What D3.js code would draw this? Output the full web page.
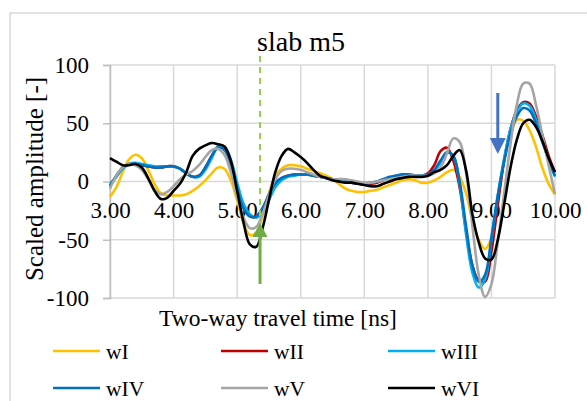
<!DOCTYPE html>
<html><head><meta charset="utf-8">
<script src="https://cdn.jsdelivr.net/npm/d3@7"></script>
<style>
html,body{margin:0;padding:0;background:#fff;}
svg{display:block;}
svg text{font-family:"Liberation Serif","Times New Roman",serif;fill:#000;}
</style></head>
<body>
<svg id="chart" width="587" height="401"></svg>
<script>
const time = [3.0,3.1,3.2,3.3,3.4,3.5,3.6,3.7,3.8,3.9,4.0,4.1,4.2,4.3,4.4,4.5,4.6,4.7,4.8,4.9,5.0,5.1,5.2,5.3,5.4,5.5,5.6,5.7,5.8,5.9,6.0,6.1,6.2,6.3,6.4,6.5,6.6,6.7,6.8,6.9,7.0,7.1,7.2,7.3,7.4,7.5,7.6,7.7,7.8,7.9,8.0,8.1,8.2,8.3,8.4,8.5,8.6,8.7,8.8,8.9,9.0,9.1,9.2,9.3,9.4,9.5,9.6,9.7,9.8,9.9,10.0];

const wI = [-13,-5,8,19,23,20,10,-2,-10,-12, -12,-12,-11,-8,-4,1,7,12,11,1, -16,-36,-46,-44,-30,-10,5,11,14,14, 13,11,9,7,5,2,-2,-6,-8,-9, -9,-8,-7,-5,-3,-1,1,2,1,-1, -1,1,4,8,10,4,-10,-33,-50,-58, -48,-15,18,40,53,52,44,30,12,-2,-11];
const wII = [-4,5,12,15,15,14,13,12,12,13, 13,11,7,4,5,12,22,30,29,16, -4,-22,-30,-30,-23,-12,-2,3,5,6, 6,6,5,4,3,2,1,0,-1,-2, -2,-2,-1,1,3,5,6,6,5,5, 7,14,26,29,18,-5,-42,-72,-85,-86, -60,-20,18,45,61,68,67,56,40,22,8];
const wIII = [-2,4,11,15,16,15,14,13,13,13, 13,11,7,4,4,10,20,30,30,19, -1,-19,-28,-31,-27,-16,-5,1,4,5, 6,6,5,4,3,2,1,0,-1,-1, -2,-1,0,2,3,5,5,6,5,5, 5,9,16,25,22,-2,-45,-78,-91,-84, -50,-12,20,45,60,67,65,53,36,18,4];
const wIV = [-4,5,12,15,15,14,13,12,12,13, 13,11,7,4,5,12,22,29,27,14, -6,-23,-30,-30,-23,-11,-1,3,5,6, 6,6,5,4,3,2,1,0,-1,-2, -2,-1,0,2,4,5,6,6,5,5, 6,10,18,25,22,0,-38,-72,-86,-80, -48,-12,17,41,56,63,61,50,34,19,5];
const wV = [-6,5,12,15,14,10,2,-7,-11,-9, -4,2,6,9,14,21,27,28,23,8, -13,-31,-40,-39,-28,-12,2,9,11,11, 10,8,6,4,3,2,2,2,1,0, -1,-1,0,1,2,3,4,5,5,5, 5,7,12,24,37,34,8,-38,-80,-99, -88,-52,-10,32,66,84,84,66,40,14,-11];
const wVI = [20,17,14,14,15,12,3,-8,-15,-14, -8,-2,8,22,28,31,33,32,30,18, -8,-35,-54,-56,-40,-16,8,22,28,25, 21,16,10,5,3,1,0,-1,-1,-2, -3,-4,-4,-2,0,2,3,4,4,4, 5,8,10,14,22,27,10,-28,-52,-66, -67,-50,-20,12,36,50,53,47,35,20,8];

const seriesNames = ["wI","wII","wIII","wIV","wV","wVI"];
const seriesValues = [wI,wII,wIII,wIV,wV,wVI];
const seriesColors = ["#FFC000","#C00000","#00B0F0","#0070C0","#A5A5A5","#000000"];
const xTicks = [3,4,5,6,7,8,9,10];
const yTicks = [-100,-50,0,50,100];
const titleText = "slab m5";
const xTitle = "Two-way travel time [ns]";
const yTitle = "Scaled amplitude [-]";
const markerGreenT = 5.36;
const markerBlueT = 9.1;

const svg = d3.select("#chart");
const x = d3.scaleLinear().domain([3,10]).range([110,555]);
const y = d3.scaleLinear().domain([-100,100]).range([298,65]);
const serif = "'Liberation Serif','Times New Roman',serif";

// chart border
svg.append("path").attr("d","M10,401 L10,13 L587,13").attr("fill","none").attr("stroke","#D9D9D9").attr("stroke-width",1.5);

// gridlines
const grid = svg.append("g");
grid.selectAll("line.v").data(xTicks).join("line")
  .attr("x1",d=>x(d)).attr("x2",d=>x(d)).attr("y1",y(100)).attr("y2",y(-100))
  .attr("stroke","#D9D9D9").attr("stroke-width",1.5);
grid.selectAll("line.h").data(yTicks).join("line")
  .attr("x1",x(3)).attr("x2",x(10)).attr("y1",d=>y(d)).attr("y2",d=>y(d))
  .attr("stroke","#D9D9D9").attr("stroke-width",1.5);

// y axis
const yAxis = d3.axisLeft(y).tickValues(yTicks).tickSize(7).tickPadding(14).tickFormat(d=>String(d));
const gy = svg.append("g").attr("transform",`translate(${x(3)},0)`).call(yAxis);
gy.attr("font-family",serif).attr("font-size",23);
gy.select(".domain").attr("stroke","#BFBFBF").attr("stroke-width",1.5);
gy.selectAll(".tick line").attr("stroke","#BFBFBF").attr("stroke-width",1.5);
gy.selectAll(".tick text").attr("fill","#000");

// x labels (axis crosses at 0)
const xAxis = d3.axisBottom(x).tickValues(xTicks).tickSize(0).tickPadding(20).tickFormat(d3.format(".2f"));
const gx = svg.append("g").attr("transform",`translate(0,${y(0)})`).call(xAxis);
gx.attr("font-family",serif).attr("font-size",23);
gx.select(".domain").remove();
gx.selectAll(".tick text").attr("fill","#000");

// series
const line = d3.line().x((d,i)=>x(time[i])).y(d=>y(d)).curve(d3.curveCatmullRom);
svg.append("g").selectAll("path").data(seriesValues).join("path")
  .attr("d",d=>line(d)).attr("fill","none")
  .attr("stroke",(d,i)=>seriesColors[i]).attr("stroke-width",2.6).attr("stroke-linejoin","round");

// green dashed marker
svg.append("line").attr("x1",x(markerGreenT)).attr("x2",x(markerGreenT)).attr("y1",56).attr("y2",226)
  .attr("stroke","#92D050").attr("stroke-width",2).attr("stroke-dasharray","6,5");
// green arrow (up)
const gxp = x(markerGreenT);
svg.append("line").attr("x1",gxp).attr("x2",gxp).attr("y1",284).attr("y2",234).attr("stroke","#70AD47").attr("stroke-width",3);
svg.append("path").attr("d",`M${gxp},223 L${gxp+7.5},237 L${gxp-7.5},237 Z`).attr("fill","#70AD47");
// blue arrow (down)
const bxp = x(markerBlueT);
svg.append("line").attr("x1",bxp).attr("x2",bxp).attr("y1",93).attr("y2",142).attr("stroke","#4472C4").attr("stroke-width",3);
svg.append("path").attr("d",`M${bxp},154 L${bxp+8},138 L${bxp-8},138 Z`).attr("fill","#4472C4");

// titles
svg.append("text").attr("x",301).attr("y",51).attr("text-anchor","middle").attr("font-size",28).text(titleText);
svg.append("text").attr("x",278).attr("y",326).attr("text-anchor","middle").attr("font-size",23.5).text(xTitle);
svg.append("text").attr("transform","translate(43,179) rotate(-90)").attr("text-anchor","middle").attr("font-size",25).text(yTitle);

// legend
const legX = [53,221,388];
const legY = [351,388];
const leg = svg.append("g").selectAll("g").data(seriesNames).join("g")
  .attr("transform",(d,i)=>`translate(${legX[i%3]},${legY[Math.floor(i/3)]})`);
leg.append("line").attr("x1",0).attr("x2",47).attr("y1",0).attr("y2",0)
  .attr("stroke",(d,i)=>seriesColors[i]).attr("stroke-width",2.6);
leg.append("text").attr("x",53).attr("y",7.5).attr("font-size",21.5).text(d=>d);
</script>
</body></html>
